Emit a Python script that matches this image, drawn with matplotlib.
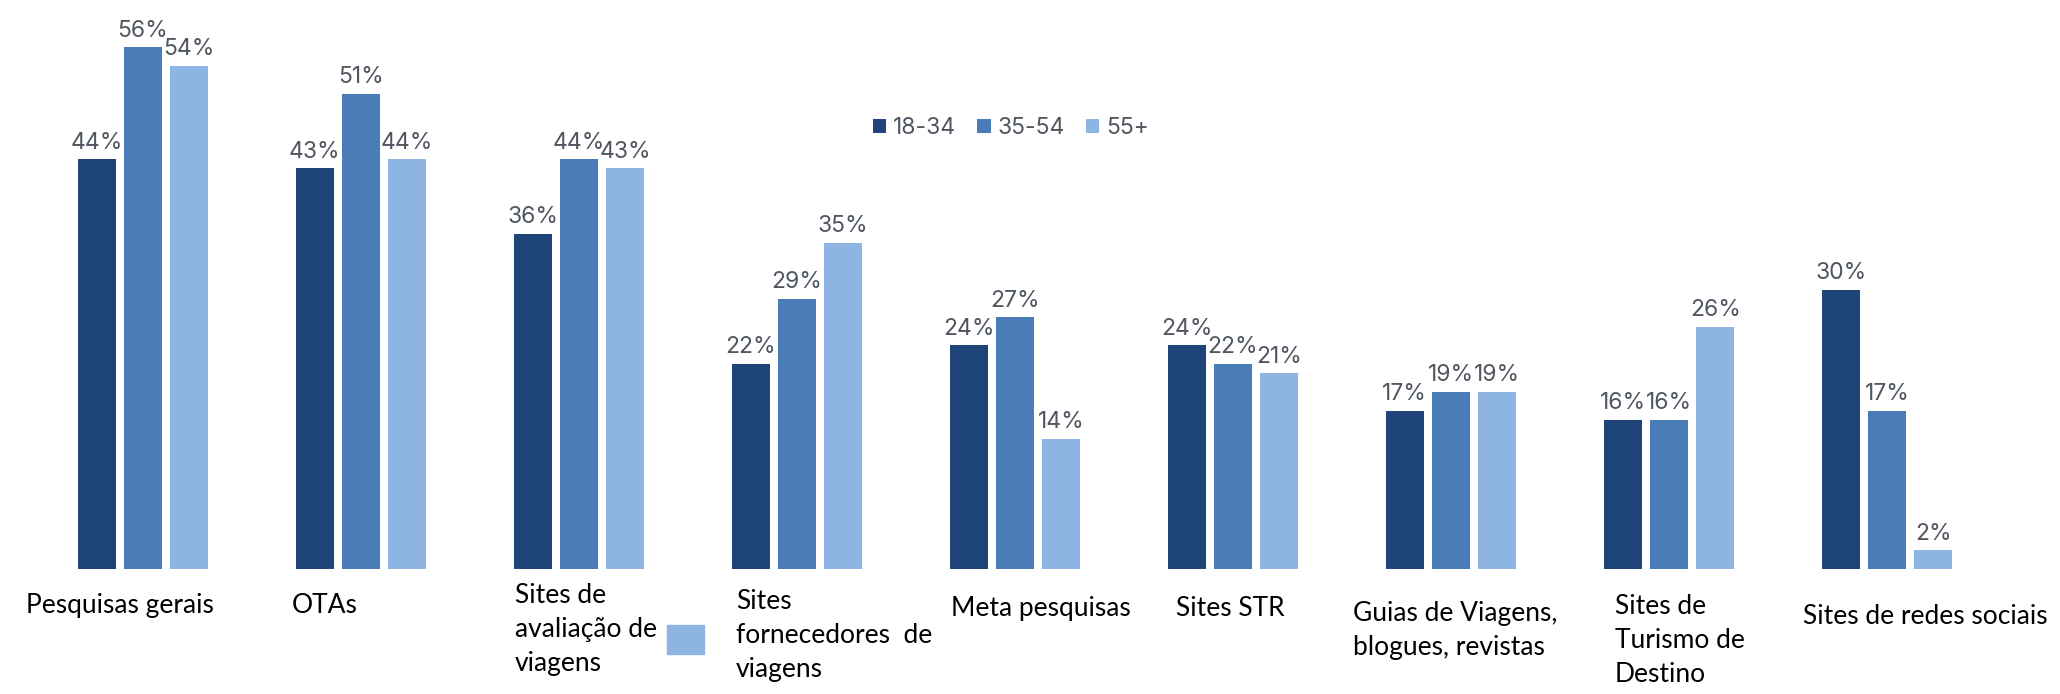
import numpy as np
import matplotlib
matplotlib.use("Agg")
from matplotlib import pyplot as plt
from matplotlib.patches import Rectangle

# dados
categorias = ["Pesquisas gerais", "OTAs", "Sites de\navaliação de\nviagens",
              "Sites\nfornecedores  de\nviagens", "Meta pesquisas", "Sites STR",
              "Guias de Viagens,\nblogues, revistas", "Sites de\nTurismo de\nDestino",
              "Sites de redes sociais"]
series = ["18-34", "35-54", "55+"]
v_18_34 = [44, 43, 36, 22, 24, 24, 17, 16, 30]
v_35_54 = [56, 51, 44, 29, 27, 22, 19, 16, 17]
v_55 = [54, 44, 43, 35, 14, 21, 19, 26, 2]

cores = ["#1f4478", "#4a7db8", "#8db4e2"]
cor_rotulo = "#4f5660"

W, H = 2060, 694
fig = plt.figure(figsize=(W / 100, H / 100), dpi=100)
ax = fig.add_axes([12 / W, 125 / H, 2006 / W, 559 / H])
ax.set_xlim(-0.6, 8.6)
ax.set_ylim(0, 60)
ax.axis("off")

x = np.arange(len(categorias))
larg = 0.174
desl = 0.212
for k, (vals, nome) in enumerate(zip([v_18_34, v_35_54, v_55], series)):
    barras = ax.bar(x + (k - 1) * desl, vals, larg, color=cores[k], label=nome)
    for b, v in zip(barras, vals):
        ax.annotate(f"{v}%", (b.get_x() + b.get_width() / 2, v),
                    xytext=(0, 4), textcoords="offset points",
                    ha="center", va="bottom", fontsize=16.5, color=cor_rotulo,
                    family=["Inter", "DejaVu Sans"])

# rótulos das categorias (posições em pixels, irregulares como no original)
pos_rot = [(26, 612), (292, 612), (515, 602), (736, 608), (951, 615),
           (1176, 615), (1353, 620), (1615, 613), (1803, 623)]
for txt, (px, py) in zip(categorias, pos_rot):
    fig.text(px / W, 1 - (py - 19) / H, txt, ha="left", va="top",
             fontsize=19, family=["Lato", "DejaVu Sans"], linespacing=1.45)

leg = fig.legend(loc="center left", bbox_to_anchor=(852 / W, 1 - 128 / H),
                 ncol=3, frameon=False, handlelength=0.6,
                 handleheight=0.6, handletextpad=0.3, columnspacing=0.9,
                 prop={"family": ["Inter", "DejaVu Sans"], "size": 16.5})
for t in leg.get_texts():
    t.set_color(cor_rotulo)

# quadrado solto que aparece no original
fig.patches.append(Rectangle((667 / W, 1 - 654 / H), 37 / W, 29 / H,
                             transform=fig.transFigure, color=cores[2]))

fig.savefig("out.png", dpi=100, facecolor="white")
